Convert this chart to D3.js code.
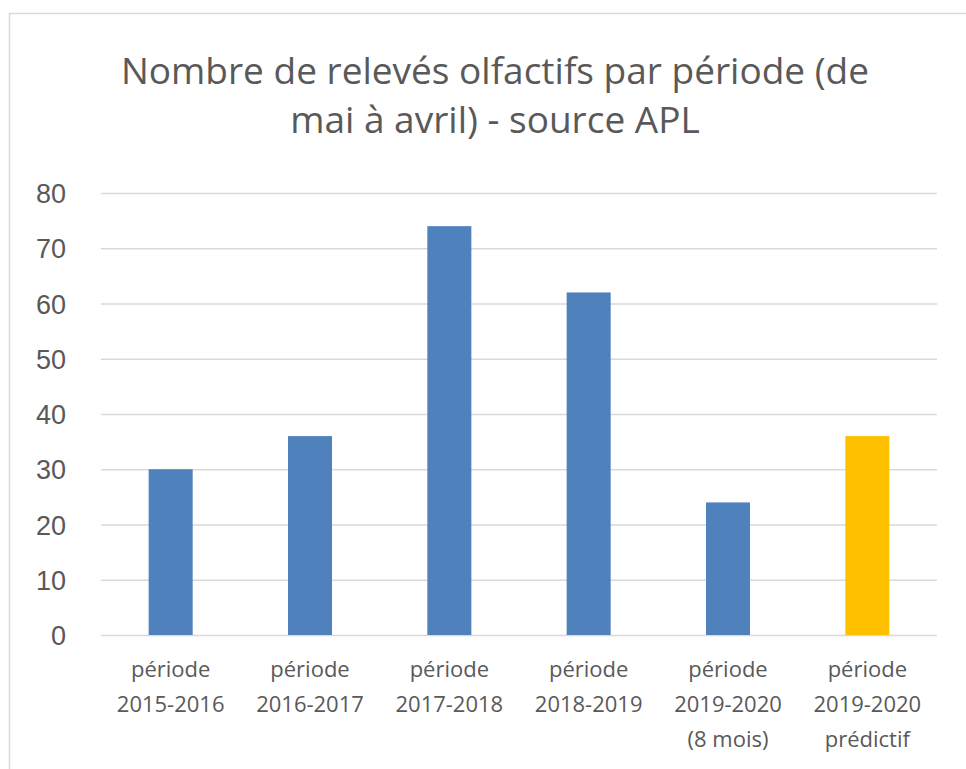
<!DOCTYPE html>
<html>
<head>
<meta charset="utf-8">
<script src="https://cdn.jsdelivr.net/npm/d3@7"></script>
<style>
  body { margin: 0; background: #fff; }
  svg { display: block; }
</style>
</head>
<body>
<script>
// data
var periods = [
    ['période', '2015-2016'],
    ['période', '2016-2017'],
    ['période', '2017-2018'],
    ['période', '2018-2019'],
    ['période', '2019-2020', '(8 mois)'],
    ['période', '2019-2020', 'prédictif']
];
var counts = [30, 36, 74, 62, 24, 36];
var barColors = ['#4f81bd', '#4f81bd', '#4f81bd', '#4f81bd', '#4f81bd', '#ffc000'];
var yTicks = [0, 10, 20, 30, 40, 50, 60, 70, 80];
var titleLines = ['Nombre de relevés olfactifs par période (de', 'mai à avril) - source APL'];

var W = 966, H = 769;
var plot = { left: 101, right: 937, top: 193, bottom: 635 };

var svg = d3.select('body').append('svg')
    .attr('width', W)
    .attr('height', H);

// chart frame (runs past the right / bottom edges)
svg.append('rect')
    .attr('x', 9.5).attr('y', 13.5)
    .attr('width', 1000).attr('height', 1000)
    .attr('fill', '#fff')
    .attr('stroke', '#d9d9d9')
    .attr('stroke-width', 1.5);

var x = d3.scaleBand()
    .domain(d3.range(counts.length))
    .range([plot.left, plot.right])
    .paddingInner(0.684)
    .paddingOuter(0.342);

var y = d3.scaleLinear()
    .domain([0, 80])
    .range([plot.bottom, plot.top]);

// title
svg.append('text')
    .attr('text-anchor', 'middle')
    .attr('fill', '#595959')
    .style('font-family', 'Open Sans, sans-serif')
    .style('font-size', '37px')
    .selectAll('tspan')
    .data(titleLines)
    .join('tspan')
    .attr('x', 495)
    .attr('y', function(d, i) { return 84 + i * 49; })
    .text(function(d) { return d; });

// grid
var yAxis = d3.axisLeft(y)
    .tickValues(yTicks)
    .tickSize(-(plot.right - plot.left))
    .tickPadding(35)
    .tickFormat(d3.format('d'));

var gy = svg.append('g')
    .attr('transform', 'translate(' + plot.left + ',0)')
    .call(yAxis);
gy.select('.domain').remove();
gy.selectAll('.tick line')
    .attr('stroke', '#d9d9d9')
    .attr('stroke-width', 1.5);
gy.selectAll('.tick text')
    .attr('fill', '#595959')
    .style('font-family', 'Liberation Sans, Arial, sans-serif')
    .style('font-size', '27px')
    .attr('dy', '0.36em');

// bars
svg.append('g')
    .selectAll('rect')
    .data(counts)
    .join('rect')
    .attr('x', function(d, i) { return x(i); })
    .attr('y', function(d) { return y(d); })
    .attr('width', x.bandwidth())
    .attr('height', function(d) { return y(0) - y(d); })
    .attr('fill', function(d, i) { return barColors[i]; });

// category labels
var xAxis = d3.axisBottom(x).tickSize(0).tickFormat('');
var gx = svg.append('g')
    .attr('transform', 'translate(0,' + plot.bottom + ')')
    .call(xAxis);
gx.select('.domain').remove();
gx.selectAll('.tick').each(function(d) {
    d3.select(this).select('text').remove();
    d3.select(this).append('text')
        .attr('text-anchor', 'middle')
        .attr('fill', '#595959')
        .style('font-family', 'Open Sans, sans-serif')
        .style('font-size', '22px')
        .selectAll('tspan')
        .data(periods[d])
        .join('tspan')
        .attr('x', 0)
        .attr('y', function(t, i) { return 42 + i * 35; })
        .text(function(t) { return t; });
});
</script>
</body>
</html>
